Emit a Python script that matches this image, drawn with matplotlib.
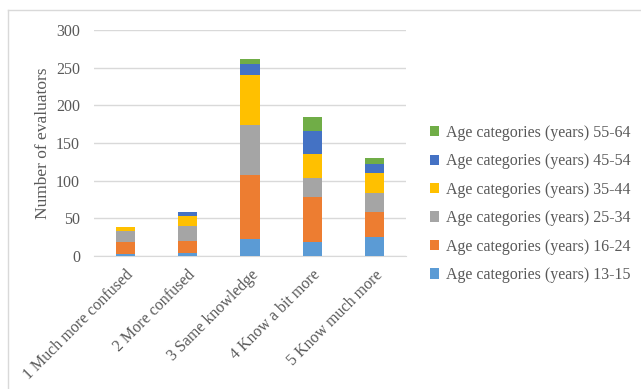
import numpy as np
import matplotlib.pyplot as plt

plt.rcParams['font.family'] = ['Liberation Serif', 'DejaVu Serif']

categories = ['1 Much more confused', '2 More confused', '3 Same knowledge',
              '4 Know a bit more', '5 Know much more']
age_groups = ['13-15', '16-24', '25-34', '35-44', '45-54', '55-64']
age_13_15 = [3, 4, 22, 18, 25]
age_16_24 = [15, 16, 85, 60, 34]
age_25_34 = [15, 20, 67, 26, 24]
age_35_44 = [5, 13, 66, 31, 27]
age_45_54 = [0, 6, 15, 31, 12]
age_55_64 = [0, 0, 6, 19, 8]
colors = ['#5b9bd5', '#ed7d31', '#a5a5a5', '#ffc000', '#4472c4', '#70ad47']

series = [age_13_15, age_16_24, age_25_34, age_35_44, age_45_54, age_55_64]
txt = '#595959'

fig = plt.figure(figsize=(6.41, 3.89), dpi=100)
ax = fig.add_axes([94/641, 1-256/389, 312/641, 226/389])

x = np.arange(len(categories))
bottom = np.zeros(len(categories))
for vals, c, g in zip(series, colors, age_groups):
    ax.bar(x, vals, 0.31, bottom=bottom, color=c,
           label='Age categories (years) ' + g, zorder=3)
    bottom += np.array(vals)

ax.set_xlim(-0.5, 4.5)
ax.set_ylim(0, 300)
ax.set_yticks(range(0, 301, 50))
ax.grid(axis='y', color='#d9d9d9', linewidth=1, zorder=0)
for s in ['top', 'right', 'left']:
    ax.spines[s].set_visible(False)
ax.spines['bottom'].set_color('#d9d9d9')
ax.tick_params(axis='both', length=0, colors=txt, labelsize=11.5)
ax.tick_params(axis='y', pad=10)
ax.tick_params(axis='x', pad=8)
ax.set_xticks(x)
ax.set_xticklabels(categories, rotation=45, ha='right', rotation_mode='anchor')
ax.set_ylabel('Number of evaluators', color=txt, fontsize=12.5, labelpad=4)

h, l = ax.get_legend_handles_labels()
leg = fig.legend(h[::-1], l[::-1], loc='upper left', bbox_to_anchor=(425/641, 1-120/389),
                 frameon=False, fontsize=11.5, labelcolor=txt, handlelength=0.6,
                 handleheight=0.6, handletextpad=0.4, labelspacing=0.78,
                 borderaxespad=0, borderpad=0.3)

# chart border
fig.add_artist(plt.Line2D([8/641, 8/641], [0, 1-10/389], color='#d9d9d9', lw=1))
fig.add_artist(plt.Line2D([8/641, 1], [1-10/389, 1-10/389], color='#d9d9d9', lw=1))

fig.savefig('out.png', dpi=100)
